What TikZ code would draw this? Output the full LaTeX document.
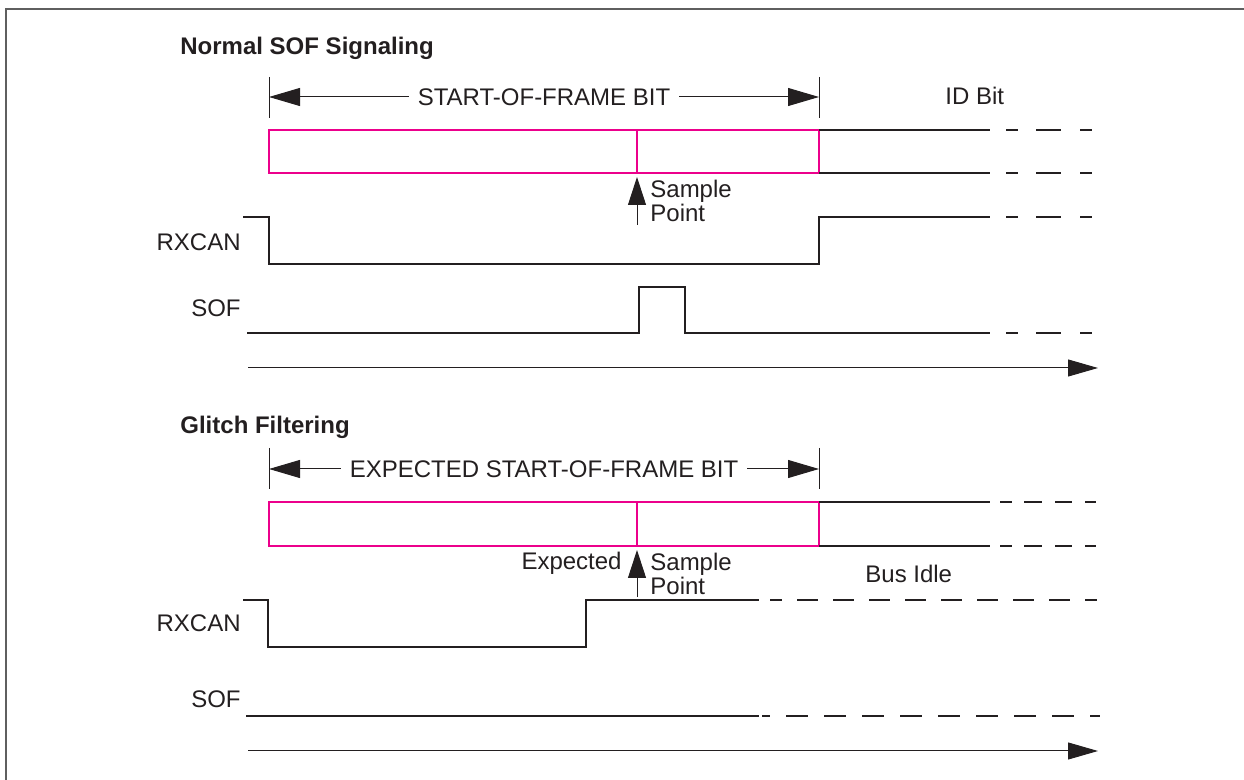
\documentclass[tikz,border=0pt]{standalone}
\usepackage{fontspec}
\setmainfont{Liberation Sans}
\usepackage{tikz}
\usetikzlibrary{arrows.meta}
\definecolor{sofpink}{RGB}{236,0,140}
\definecolor{ink}{RGB}{35,31,32}
\definecolor{framegray}{RGB}{95,95,95}
\tikzset{
    sigline/.style={draw=ink, line width=1.2pt},
    bitbox/.style={draw=sofpink, line width=1pt},
    idletail/.style={draw=ink, line width=1.2pt, dash pattern={on 6pt off 9pt on 12.5pt off 9.5pt on 6pt off 40pt}},
    glitchtail/.style={draw=ink, line width=1.2pt, dash pattern={on 6pt off 6pt on 9pt off 6.5pt on 8.5pt off 6.5pt on 5.5pt off 40pt}},
    endtick/.style={draw=ink, line width=0.5pt},
    dimline/.style={draw=ink, line width=0.5pt, {Triangle[length=15.5pt,width=9pt]}-{Triangle[length=15.5pt,width=9pt]}},
    samplearrow/.style={draw=ink, line width=0.5pt, -{Triangle[length=14pt,width=9pt]}},
    timeaxis/.style={draw=ink, line width=0.5pt, -{Triangle[length=15pt,width=8.5pt]}},
    sigtext/.style={font=\fontsize{12}{12}\selectfont, text=ink, inner sep=0pt},
    dimlabel/.style={sigtext, fill=white, inner xsep=4.5pt},
    heading/.style={font=\bfseries\fontsize{12}{12}\selectfont, text=ink, inner sep=0pt}
}
\begin{document}
\begin{tikzpicture}[x=0.5pt, y=-0.5pt]
            \useasboundingbox (0,0) rectangle (1244,780);
            \draw[framegray, line width=1pt] (1244,9) -- (6,9) -- (6,780);

            % 1. Normal SOF Signaling
            \node[heading, anchor=base west] (normTitle) at (180,55) {Normal SOF Signaling};
            \coordinate (normL) at (269,97);
            \coordinate (normR) at (819,97);
            \draw[endtick] (269,77) -- (269,118);
            \draw[endtick] (819,77) -- (819,118);
            \draw[dimline] (normL) -- node[dimlabel] (normBit) {START-OF-FRAME BIT} (normR);
            \node[sigtext, anchor=base west] (idBit) at (945,105) {ID Bit};

            \draw[bitbox] (269,130) rectangle (819,173);
            \draw[bitbox] (637,130) -- (637,173);
            \draw[sigline] (819,130) -- (990,130);
            \draw[sigline] (819,173) -- (990,173);
            \draw[idletail] (1006,130) -- (1092,130);
            \draw[idletail] (1006,173) -- (1092,173);

            \coordinate (normFoot) at (637,225);
            \coordinate (normTip) at (637,177);
            \draw[samplearrow] (normFoot) -- (normTip);
            \node[sigtext, anchor=north west, align=left] (normSample) at (650,180) {Sample\\Point};

            \node[sigtext, anchor=base east] (normRx) at (241,251) {RXCAN};
            \draw[sigline] (243,217) -- (269,217) -- (269,264) -- (819,264) -- (819,217) -- (990,217);
            \draw[idletail] (1006,217) -- (1092,217);

            \node[sigtext, anchor=base east] (normSof) at (241,317) {SOF};
            \draw[sigline] (247,333) -- (639,333) -- (639,287) -- (685,287) -- (685,333) -- (990,333);
            \draw[idletail] (1006,333) -- (1092,333);

            \coordinate (normT0) at (248,368);
            \coordinate (normT1) at (1098,368);
            \draw[timeaxis] (normT0) -- (normT1);

            % 2. Glitch Filtering
            \node[heading, anchor=base west] (glTitle) at (180,434) {Glitch Filtering};
            \coordinate (glL) at (269,469);
            \coordinate (glR) at (819,469);
            \draw[endtick] (269,448) -- (269,489);
            \draw[endtick] (819,448) -- (819,489);
            \draw[dimline] (glL) -- node[dimlabel] (glBit) {EXPECTED START-OF-FRAME BIT} (glR);

            \draw[bitbox] (269,502) rectangle (819,546);
            \draw[bitbox] (637,502) -- (637,546);
            \draw[sigline] (819,502) -- (990,502);
            \draw[sigline] (819,546) -- (990,546);
            \draw[glitchtail] (1000,502) -- (1096,502);
            \draw[glitchtail] (1000,546) -- (1096,546);

            \coordinate (glFoot) at (637,597);
            \coordinate (glTip) at (637,550);
            \draw[samplearrow] (glFoot) -- (glTip);
            \node[sigtext, anchor=base east] (glExp) at (622,570) {Expected};
            \node[sigtext, anchor=north west, align=left] (glSample) at (650,553) {Sample\\Point};
            \node[sigtext, anchor=base west] (busIdle) at (865,583) {Bus Idle};

            \node[sigtext, anchor=base east] (glRx) at (241,632) {RXCAN};
            \draw[sigline] (243,600) -- (268,600) -- (268,647) -- (586,647) -- (586,600) -- (759,600);
            \draw[sigline, dash pattern={on 10.5pt off 7.5pt}, dash phase=4.5pt] (770,600) -- (1097,600);

            \node[sigtext, anchor=base east] (glSof) at (241,708) {SOF};
            \draw[sigline] (246,716) -- (759,716);
            \draw[sigline, dash pattern={on 11pt off 8pt}, dash phase=7pt] (762,716) -- (1100,716);

            \coordinate (glT0) at (248,751);
            \coordinate (glT1) at (1098,751);
            \draw[timeaxis] (glT0) -- (glT1);
        \end{tikzpicture}
\end{document}
